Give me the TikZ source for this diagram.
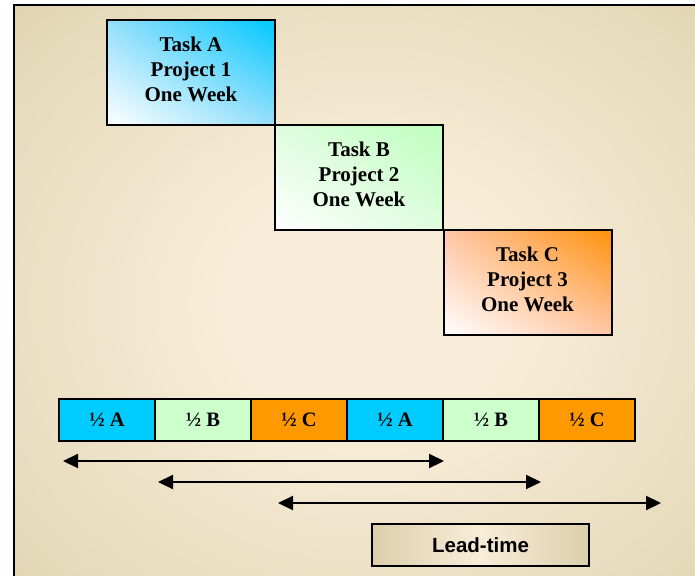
\documentclass[tikz,border=0pt]{standalone}
\usepackage{fontspec}
\setmainfont{Liberation Serif}
\newfontfamily\labelsans{Liberation Sans}
\usetikzlibrary{arrows.meta,shadings}

\definecolor{bgedge}{RGB}{206,190,148}
\definecolor{bgmid}{RGB}{230,219,188}
\definecolor{bgcenter}{RGB}{248,237,216}
\definecolor{skyA}{RGB}{0,200,255}
\definecolor{skyMid}{RGB}{150,222,250}
\definecolor{mintB}{RGB}{190,255,190}
\definecolor{mintMid}{RGB}{222,252,222}
\definecolor{amberC}{RGB}{255,145,10}
\definecolor{amberMid}{RGB}{255,198,168}
\definecolor{cellA}{RGB}{0,204,255}
\definecolor{cellB}{RGB}{204,255,204}
\definecolor{cellC}{RGB}{255,153,0}

% warm glow behind everything
\pgfdeclareradialshading{bgglow}{\pgfpoint{0bp}{0bp}}{%
  color(0bp)=(bgcenter); color(10bp)=(bgcenter); color(30bp)=(bgmid); color(50bp)=(bgedge)}

\begin{document}
\begin{tikzpicture}[x=1pt,y=-1pt,
  task/.style={draw=black, line width=2pt, minimum width=168pt, minimum height=105pt,
    inner sep=0pt, align=center, text depth=6pt,
    font=\fontsize{21}{25}\selectfont\bfseries},
  half/.style={draw=black, line width=1.8pt, minimum width=96pt, minimum height=42pt,
    inner sep=0pt, font=\fontsize{20.5}{22}\selectfont\bfseries},
  span/.style={line width=2.2pt,
    {Triangle[length=15pt,width=14pt]}-{Triangle[length=15pt,width=14pt]}}]

\useasboundingbox (0,0) rectangle (695,575);
\clip (0,0) rectangle (695,575);
\fill[white] (0,0) rectangle (695,575);

% framed background
\shade[shading=bgglow, draw=black, line width=2pt] (13.5,5.5) rectangle (722,602);

% the three one-week tasks
\node[task, lower left=white, upper right=skyA, upper left=skyMid, lower right=skyMid]
  (taskA) at (191,72.5) {Task A\\Project 1\\One Week};
\node[task, lower left=white, upper right=mintB, upper left=mintMid, lower right=mintMid]
  (taskB) at (359,177.5) {Task B\\Project 2\\One Week};
\node[task, lower left=white, upper right=amberC, upper left=amberMid, lower right=amberMid]
  (taskC) at (527.5,282.5) {Task C\\Project 3\\One Week};

% multitasked schedule
\node[half, fill=cellA] (h1) at (107,420) {½ A};
\node[half, fill=cellB] (h2) at (203,420) {½ B};
\node[half, fill=cellC] (h3) at (299,420) {½ C};
\node[half, fill=cellA] (h4) at (395,420) {½ A};
\node[half, fill=cellB] (h5) at (491,420) {½ B};
\node[half, fill=cellC] (h6) at (587,420) {½ C};

% lead-time spans
\coordinate (s1a) at (63,461);
\coordinate (s1b) at (444,461);
\coordinate (s2a) at (158,482);
\coordinate (s2b) at (541,482);
\coordinate (s3a) at (278,503);
\coordinate (s3b) at (661,503);
\draw[span] (s1a) -- (s1b);
\draw[span] (s2a) -- (s2b);
\draw[span] (s3a) -- (s3b);

% caption box
\node[draw=black, line width=1.6pt, minimum width=217pt, minimum height=42pt, inner sep=0pt,
  left color=bgedge!65!bgcenter, right color=bgedge!65!bgcenter, middle color=bgcenter,
  font=\labelsans\fontsize{20.5}{24}\selectfont\bfseries]
  (lead) at (480.5,545) {Lead-time};
\end{tikzpicture}
\end{document}
